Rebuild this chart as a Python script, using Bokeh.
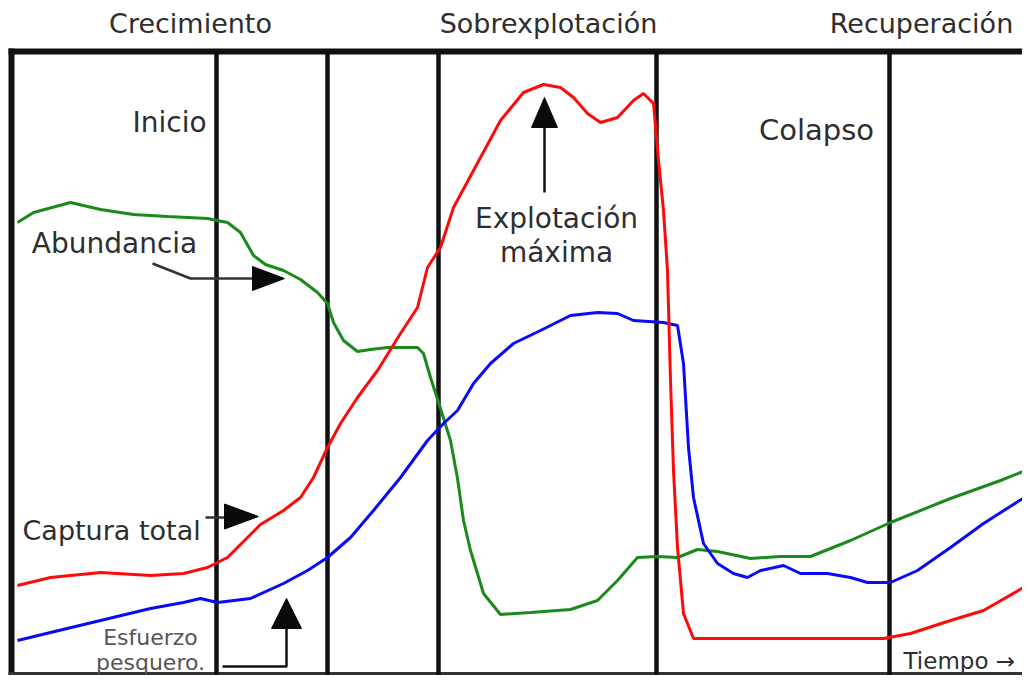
from bokeh.plotting import figure
from bokeh.models import Range1d
from bokeh.core.properties import value
from bokeh.embed import file_html
from bokeh.resources import INLINE

# ---- data (time units along x, level units along y; y grows downward in picture units) ----
abundancia_t = [17, 33, 70, 100, 133, 167, 207, 227, 240, 253, 265, 283, 300, 317, 327, 333, 343,
                357, 370, 387, 417, 423, 430, 440, 450, 457, 463, 470, 483, 500, 530, 570, 597,
                617, 637, 657, 677, 697, 717, 750, 780, 810, 850, 890, 950, 1000, 1030]
abundancia_v = [222, 212, 202, 209, 214, 216, 218, 222, 232, 255, 264, 270, 279, 292, 303, 322, 340,
                351, 349, 347, 347, 353, 377, 408, 440, 478, 520, 550, 593, 614, 612, 609, 600,
                580, 557, 556, 557, 549, 551, 558, 556, 556, 540, 522, 498, 480, 468]

captura_t = [17, 50, 100, 150, 183, 207, 227, 240, 260, 283, 300, 313, 327, 340, 357, 377, 400,
             417, 427, 440, 453, 480, 500, 523, 543, 560, 573, 587, 600, 617, 633, 643, 653,
             658, 663, 667, 670, 673, 677, 683, 693, 750, 817, 883, 910, 950, 983, 1030]
captura_v = [585, 577, 572, 575, 573, 567, 557, 544, 524, 510, 497, 477, 447, 423, 397, 370, 333,
             307, 267, 247, 207, 157, 120, 92, 84, 87, 97, 113, 122, 117, 100, 93, 103,
             160, 210, 270, 380, 470, 547, 613, 638, 638, 638, 638, 633, 620, 610, 583]

esfuerzo_t = [17, 50, 100, 150, 183, 200, 217, 250, 283, 307, 327, 350, 373, 400, 427, 443, 457,
              473, 490, 513, 540, 570, 597, 617, 633, 663, 677, 683, 688, 693, 703, 717, 733,
              747, 760, 783, 800, 827, 850, 867, 890, 917, 950, 983, 1030]
esfuerzo_v = [640, 632, 620, 608, 602, 598, 602, 598, 583, 570, 557, 537, 510, 477, 440, 423, 410,
              383, 363, 343, 330, 315, 312, 313, 320, 322, 325, 363, 447, 497, 543, 563, 573,
              577, 570, 565, 573, 573, 577, 582, 582, 570, 547, 523, 493]

fase_limites = [216, 327, 438, 656, 889]
fases = ["Crecimiento", "Sobrexplotación", "Recuperación"]

TXT = "#2e2e2e"
FONT = value("DejaVu Sans")

p = figure(width=1022, height=675, x_range=Range1d(0, 1022), y_range=Range1d(675, 0),
           output_backend="svg", toolbar_location=None, x_axis_location=None,
           y_axis_location=None, min_border=0, background_fill_color="white",
           border_fill_color="white")
p.outline_line_color = None
p.xgrid.visible = False
p.ygrid.visible = False

# frame
p.segment(x0=[8], y0=[51], x1=[1030], y1=[51], line_color="#111111", line_width=6)
p.segment(x0=[11], y0=[48], x1=[11], y1=[683], line_color="#111111", line_width=6)
p.segment(x0=[8], y0=[673], x1=[1030], y1=[673], line_color="#333333", line_width=3)
p.segment(x0=fase_limites, y0=[51] * len(fase_limites), x1=fase_limites,
          y1=[683] * len(fase_limites), line_color="#111111", line_width=4.5)

# curves
p.line(abundancia_t, abundancia_v, line_color="#1a8a1a", line_width=3)
p.line(esfuerzo_t, esfuerzo_v, line_color="#0a0af5", line_width=3)
p.line(captura_t, captura_v, line_color="#ff0a0a", line_width=3)

# titles
p.text(x=[190, 548, 921], y=[23, 23, 23], text=fases, text_font=FONT, text_font_size="27px",
       text_color=TXT, text_align="center", text_baseline="middle")

# labels
labels = [
    ("Inicio", 169, 122, 28, "center"),
    ("Colapso", 816, 129, 29, "center"),
    ("Explotación", 556, 218, 28, "center"),
    ("máxima", 556, 252, 28, "center"),
    ("Abundancia", 114, 243, 28, "center"),
    ("Captura total", 22, 530, 27, "left"),
]
for t, x, y, s, a in labels:
    p.text(x=[x], y=[y], text=[t], text_font=FONT, text_font_size=f"{s}px", text_color=TXT,
           text_align=a, text_baseline="middle")

p.text(x=[150, 150], y=[637, 662], text=["Esfuerzo", "pesquero."], text_font=FONT,
       text_font_size="22px", text_color="#555555", text_align="center", text_baseline="middle")
p.text(x=[903], y=[660], text=["Tiempo →"], text_font=FONT, text_font_size="23px",
       text_color=TXT, text_align="left", text_baseline="middle")

# annotation arrows
p.line([544, 544], [192, 122], line_color="#111111", line_width=2.5)
p.line([152, 190, 254], [263, 278, 278], line_color="#333333", line_width=2.5)
p.line([205, 225], [517, 517], line_color="#333333", line_width=2.5)
p.line([222, 286, 286], [666, 666, 625], line_color="#111111", line_width=2.5)


def head(tip_x, tip_y, dx, dy, length, width):
    bx, by = tip_x - dx * length, tip_y - dy * length
    px, py = -dy * width / 2, dx * width / 2
    return [tip_x, bx + px, bx - px], [tip_y, by + py, by - py]

heads = [head(544, 97, 0, -1, 30, 26), head(284, 278, 1, 0, 32, 24),
         head(258, 516, 1, 0, 34, 25), head(286, 598, 0, -1, 30, 30)]
p.patches([h[0] for h in heads], [h[1] for h in heads], fill_color="#0a0a0a",
          line_color="#0a0a0a", line_width=1)

open("out.html", "w").write(file_html(p, INLINE))
